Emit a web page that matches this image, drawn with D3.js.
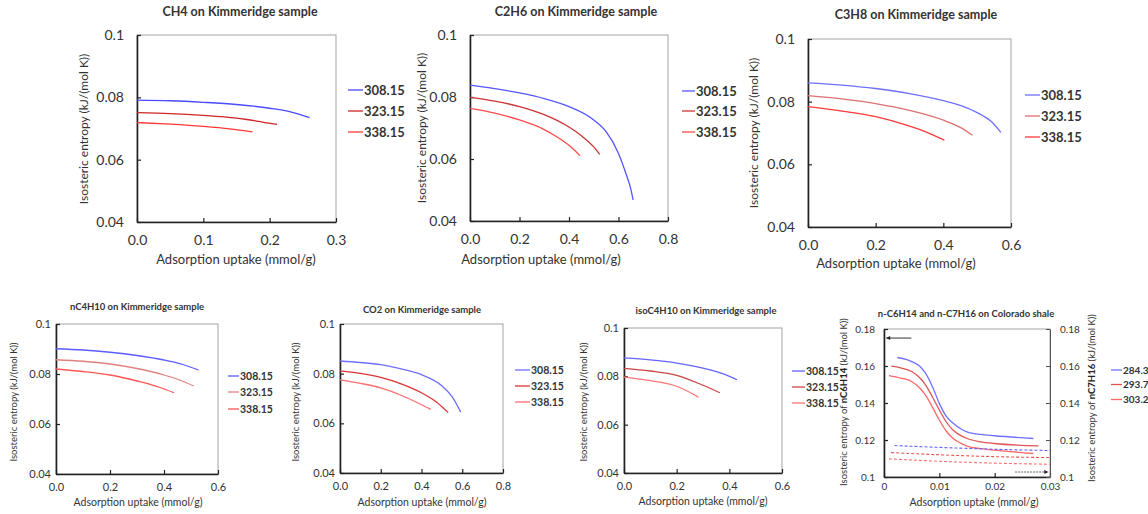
<!DOCTYPE html>
<html>
<head>
<meta charset="utf-8">
<script src="https://cdn.jsdelivr.net/npm/d3@7/dist/d3.min.js"></script>
<style>
  html, body { margin: 0; padding: 0; background: #fff; }
  svg { display: block; }
  text { font-family: Lato, "Open Sans", "Liberation Sans", sans-serif; fill: #333; }
</style>
</head>
<body>
<svg id="chart" width="1148" height="514"></svg>
<script>
// ---- Isosteric entropy curves: [uptake mmol/g, entropy kJ/(mol K)] ----
const ch4_308 = [[0,0.0791],[0.05,0.0789],[0.1,0.0784],[0.15,0.0777],[0.2,0.0765],[0.23,0.0754],[0.26,0.0735]];
const ch4_323 = [[0,0.0751],[0.05,0.0748],[0.1,0.0742],[0.15,0.0733],[0.18,0.0724],[0.211,0.0713]];
const ch4_338 = [[0,0.0719],[0.05,0.0714],[0.1,0.0707],[0.14,0.0699],[0.174,0.0689]];

const c2h6_308 = [[0,0.0838],[0.1,0.0827],[0.2,0.0813],[0.3,0.0795],[0.4,0.0769],[0.5,0.0726],[0.55,0.0688],[0.6,0.0618],[0.63,0.0553],[0.65,0.0502],[0.659,0.0468]];
const c2h6_323 = [[0,0.0799],[0.1,0.0787],[0.2,0.0769],[0.3,0.0743],[0.4,0.0703],[0.45,0.0675],[0.5,0.0639],[0.524,0.0615]];
const c2h6_338 = [[0,0.0763],[0.1,0.0748],[0.2,0.0726],[0.3,0.0695],[0.35,0.0672],[0.4,0.0644],[0.444,0.0611]];

const c3h8_308 = [[0,0.0860],[0.1,0.0853],[0.2,0.0842],[0.3,0.0826],[0.4,0.0803],[0.45,0.0788],[0.5,0.0765],[0.54,0.0738],[0.57,0.0702]];
const c3h8_323 = [[0,0.0819],[0.1,0.0809],[0.2,0.0794],[0.3,0.0772],[0.4,0.0741],[0.45,0.0718],[0.486,0.0693]];
const c3h8_338 = [[0,0.0784],[0.1,0.0770],[0.2,0.0752],[0.3,0.0722],[0.35,0.0703],[0.403,0.0677]];

const nc4_308 = [[0,0.0901],[0.1,0.0896],[0.2,0.0887],[0.3,0.0874],[0.4,0.0856],[0.47,0.0838],[0.528,0.0816]];
const nc4_323 = [[0,0.0857],[0.1,0.0851],[0.2,0.0840],[0.3,0.0822],[0.4,0.0796],[0.46,0.0775],[0.51,0.0752]];
const nc4_338 = [[0,0.0820],[0.1,0.0810],[0.2,0.0796],[0.3,0.0772],[0.38,0.0748],[0.437,0.0725]];

const co2_308 = [[0,0.0851],[0.1,0.0845],[0.2,0.0836],[0.3,0.0819],[0.4,0.0796],[0.5,0.0751],[0.55,0.0708],[0.593,0.0645]];
const co2_323 = [[0,0.0811],[0.1,0.0801],[0.2,0.0785],[0.3,0.0759],[0.4,0.0723],[0.47,0.0688],[0.531,0.0643]];
const co2_338 = [[0,0.0775],[0.1,0.0761],[0.2,0.0743],[0.3,0.0713],[0.38,0.0683],[0.446,0.0656]];

const iso_308 = [[0,0.0876],[0.1,0.0868],[0.2,0.0855],[0.3,0.0834],[0.38,0.0809],[0.429,0.0786]];
const iso_323 = [[0,0.0833],[0.1,0.0822],[0.2,0.0804],[0.3,0.0763],[0.364,0.0732]];
const iso_338 = [[0,0.0797],[0.1,0.0782],[0.2,0.0759],[0.283,0.0714]];

// n-hexane (left axis, solid) and n-heptane (right axis, dashed) on Colorado shale
const hex_284 = [[0.0024,0.1646],[0.004,0.1636],[0.005,0.1624],[0.0065,0.1597],[0.0075,0.1561],[0.0088,0.1485],[0.01,0.1398],[0.0112,0.1330],[0.0125,0.1290],[0.014,0.1258],[0.015,0.1244],[0.0175,0.1230],[0.02,0.1223],[0.027,0.1208]];
const hex_294 = [[0.0013,0.1599],[0.003,0.1590],[0.005,0.1570],[0.0065,0.1535],[0.0075,0.1498],[0.0088,0.1430],[0.01,0.1362],[0.0112,0.1300],[0.0125,0.1253],[0.014,0.1222],[0.015,0.1208],[0.0175,0.1190],[0.02,0.1181],[0.0279,0.1168]];
const hex_303 = [[0.0009,0.1548],[0.003,0.1535],[0.005,0.1516],[0.0065,0.1480],[0.0075,0.1443],[0.0088,0.1375],[0.01,0.1308],[0.0112,0.1250],[0.0125,0.1208],[0.014,0.1180],[0.015,0.1167],[0.0175,0.1153],[0.02,0.1145],[0.027,0.1127]];
const hep_284 = [[0.0019,0.1170],[0.01,0.1160],[0.02,0.1150],[0.03,0.1143]];
const hep_294 = [[0.0013,0.1132],[0.01,0.1120],[0.02,0.1110],[0.03,0.1105]];
const hep_303 = [[0.0009,0.1098],[0.01,0.1085],[0.02,0.1075],[0.03,0.1069]];

// ---- Labels and ticks ----
const kimTemps = ["308.15", "323.15", "338.15"];
const colTemps = ["284.3", "293.7", "303.2"];
const yTicksKim = [0.04, 0.06, 0.08, 0.1];
const yTicksCol = [0.1, 0.12, 0.14, 0.16, 0.18];
const xTicks03 = [0, 0.1, 0.2, 0.3];
const xTicks06 = [0, 0.2, 0.4, 0.6];
const xTicks08 = [0, 0.2, 0.4, 0.6, 0.8];
const xTicks003 = [0, 0.01, 0.02, 0.03];

const svg = d3.select("#chart");
svg.append("rect").attr("width", 1148).attr("height", 514).attr("fill", "#fff");

const fmtY = d => (d === 0.1 ? "0.1" : d3.format(".2f")(d));
const fmtX1 = d3.format(".1f");
const fmtX3 = d => (d === 0 ? "0" : d3.format(".2f")(d));

function drawPanel(p) {
  const g = svg.append("g");
  const x = d3.scaleLinear().domain(p.xDomain).range([p.l, p.r]);
  const y = d3.scaleLinear().domain(p.yDomain).range([p.b, p.t]);

  // plot frame (top / right in light grey)
  g.append("rect").attr("x", p.l).attr("y", p.t)
    .attr("width", p.r - p.l).attr("height", p.b - p.t)
    .attr("fill", "none").attr("stroke", "#9a9a9a").attr("stroke-width", 0.9);

  const styleAxis = (sel, fs) => {
    sel.select(".domain").attr("stroke", "#222").attr("stroke-width", 1.6);
    sel.selectAll(".tick line").attr("stroke", "#222").attr("stroke-width", 1.2);
    sel.selectAll(".tick text").attr("font-size", fs).attr("fill", "#333")
      .attr("font-family", "Lato, 'Open Sans', sans-serif");
  };

  const xa = g.append("g").attr("transform", `translate(0,${p.b})`)
    .call(d3.axisBottom(x).tickValues(p.xTicks).tickFormat(p.xFmt)
      .tickSize(-4).tickSizeOuter(0).tickPadding(p.xPad));
  styleAxis(xa, p.tickFs);

  const ya = g.append("g").attr("transform", `translate(${p.l},0)`)
    .call(d3.axisLeft(y).tickValues(p.yTicks).tickFormat(fmtY)
      .tickSize(-4).tickSizeOuter(0).tickPadding(p.yPad));
  styleAxis(ya, p.tickFs);

  if (p.rightAxis) {
    const ra = g.append("g").attr("transform", `translate(${p.r},0)`)
      .call(d3.axisRight(y).tickValues(p.yTicks).tickFormat(fmtY)
        .tickSize(-4).tickSizeOuter(0).tickPadding(p.yPadR));
    ra.select(".domain").attr("stroke", "#555").attr("stroke-width", 1);
    ra.selectAll(".tick line").attr("stroke", "#555");
    ra.selectAll(".tick text").attr("font-size", p.tickFs).attr("fill", "#333");
  }

  const line = d3.line().x(d => x(d[0])).y(d => y(d[1])).curve(d3.curveMonotoneX);
  p.series.forEach(s => {
    g.append("path").datum(s.data).attr("d", line)
      .attr("fill", "none").attr("stroke", s.color)
      .attr("stroke-width", s.width || 1.3)
      .attr("stroke-dasharray", s.dash || null);
  });

  // arrows indicating which axis each curve set belongs to
  (p.arrows || []).forEach(a => {
    const x1 = x(a.from[0]), x2 = x(a.to[0]), yy = y(a.from[1]);
    g.append("line").attr("x1", x1).attr("x2", x2).attr("y1", yy).attr("y2", yy)
      .attr("stroke", a.color).attr("stroke-width", 1)
      .attr("stroke-dasharray", a.dash || null);
    const dir = Math.sign(x2 - x1);
    g.append("path")
      .attr("d", `M${x2},${yy} L${x2 - dir * 4},${yy - 2} L${x2 - dir * 4},${yy + 2} Z`)
      .attr("fill", "#222");
  });

  // title
  g.append("text").attr("x", p.titleX).attr("y", p.titleY)
    .attr("text-anchor", "middle").attr("font-weight", "bold")
    .attr("font-size", p.titleFs).attr("fill", "#222").text(p.title);

  // x axis title
  g.append("text").attr("x", p.xtX).attr("y", p.xtY)
    .attr("text-anchor", "middle").attr("font-size", p.axisFs).attr("fill", "#333")
    .text("Adsorption uptake (mmol/g)");

  // y axis title(s)
  const yt = g.append("text")
    .attr("transform", `translate(${p.ytX},${p.ytY}) rotate(-90)`)
    .attr("text-anchor", "middle").attr("font-size", p.yAxisFs).attr("fill", "#555");
  if (p.ytBold) {
    yt.append("tspan").text("Isosteric entropy of ");
    yt.append("tspan").attr("font-weight", "bold").attr("fill", "#222").text(p.ytBold);
    yt.append("tspan").text(" (kJ/(mol K))");
  } else {
    yt.text("Isosteric entropy (kJ/(mol K))");
  }
  if (p.ytRBold) {
    const yr = g.append("text")
      .attr("transform", `translate(${p.ytRX},${p.ytRY}) rotate(-90)`)
      .attr("text-anchor", "middle").attr("font-size", p.yAxisFs).attr("fill", "#555");
    yr.append("tspan").text("Isosteric entropy of ");
    yr.append("tspan").attr("font-weight", "bold").attr("fill", "#222").text(p.ytRBold);
    yr.append("tspan").text(" (kJ/(mol K))");
  }

  // legend
  p.legend.labels.forEach((lab, i) => {
    const ly = p.legend.ys[i];
    g.append("line").attr("x1", p.legend.x1).attr("x2", p.legend.x2)
      .attr("y1", ly).attr("y2", ly)
      .attr("stroke", p.series[i].color).attr("stroke-width", 1.3);
    g.append("text").attr("x", p.legend.x2 + 1).attr("y", ly)
      .attr("dy", "0.35em").attr("font-weight", "bold")
      .attr("font-size", p.legend.fs).attr("fill", "#222").text(lab);
  });
}

const topRow = { tickFs: 14, axisFs: 13, yAxisFs: 12, titleFs: 12.5, xPad: 13, yPad: 13 };
const botRow = { tickFs: 11, axisFs: 10.5, yAxisFs: 9.5, titleFs: 9.5, xPad: 9, yPad: 5 };

drawPanel(Object.assign({}, topRow, {
  l: 137, r: 336, t: 35, b: 222,
  xDomain: [0, 0.3], yDomain: [0.04, 0.1], xTicks: xTicks03, yTicks: yTicksKim, xFmt: fmtX1,
  title: "CH4 on Kimmeridge sample", titleX: 240, titleY: 16,
  xtX: 236, xtY: 264, ytX: 88, ytY: 129,
  series: [
    { data: ch4_308, color: "#4b4bff" },
    { data: ch4_323, color: "#cc2626" },
    { data: ch4_338, color: "#ff3838" }],
  legend: { labels: kimTemps, x1: 348, x2: 363, ys: [90, 111, 132], fs: 13 }
}));

drawPanel(Object.assign({}, topRow, {
  l: 470, r: 668, t: 35, b: 221,
  xDomain: [0, 0.8], yDomain: [0.04, 0.1], xTicks: xTicks08, yTicks: yTicksKim, xFmt: fmtX1,
  title: "C2H6 on Kimmeridge sample", titleX: 576, titleY: 16,
  xtX: 541, xtY: 264, ytX: 426, ytY: 128,
  series: [
    { data: c2h6_308, color: "#5555ff" },
    { data: c2h6_323, color: "#cc3333" },
    { data: c2h6_338, color: "#ff4a4a" }],
  legend: { labels: kimTemps, x1: 682, x2: 695, ys: [91, 111, 132], fs: 13 }
}));

drawPanel(Object.assign({}, topRow, {
  l: 808, r: 1011, t: 39, b: 227,
  xDomain: [0, 0.6], yDomain: [0.04, 0.1], xTicks: xTicks06, yTicks: yTicksKim, xFmt: fmtX1,
  title: "C3H8 on Kimmeridge sample", titleX: 916, titleY: 19,
  xtX: 896, xtY: 268, ytX: 758, ytY: 133,
  series: [
    { data: c3h8_308, color: "#6f6fff" },
    { data: c3h8_323, color: "#dd7070" },
    { data: c3h8_338, color: "#ff3a3a" }],
  legend: { labels: kimTemps, x1: 1025, x2: 1040, ys: [95, 116, 137], fs: 13 }
}));

drawPanel(Object.assign({}, botRow, {
  l: 56, r: 218, t: 324, b: 474,
  xDomain: [0, 0.6], yDomain: [0.04, 0.1], xTicks: xTicks06, yTicks: yTicksKim, xFmt: fmtX1,
  title: "nC4H10 on Kimmeridge sample", titleX: 137, titleY: 310,
  xtX: 138, xtY: 506, ytX: 17, ytY: 402,
  series: [
    { data: nc4_308, color: "#5c5cff" },
    { data: nc4_323, color: "#e08080" },
    { data: nc4_338, color: "#ff5555" }],
  legend: { labels: kimTemps, x1: 228, x2: 239, ys: [376, 392, 409], fs: 10.5 }
}));

drawPanel(Object.assign({}, botRow, {
  l: 340, r: 503, t: 324, b: 473,
  xDomain: [0, 0.8], yDomain: [0.04, 0.1], xTicks: xTicks08, yTicks: yTicksKim, xFmt: fmtX1,
  title: "CO2 on Kimmeridge sample", titleX: 422, titleY: 313,
  xtX: 422, xtY: 506, ytX: 299, ytY: 402,
  series: [
    { data: co2_308, color: "#6e6eff" },
    { data: co2_323, color: "#dd3333" },
    { data: co2_338, color: "#ff6e6e" }],
  legend: { labels: kimTemps, x1: 515, x2: 530, ys: [370, 386, 402], fs: 10.5 }
}));

drawPanel(Object.assign({}, botRow, {
  l: 624, r: 782, t: 328, b: 473,
  xDomain: [0, 0.6], yDomain: [0.04, 0.1], xTicks: xTicks06, yTicks: yTicksKim, xFmt: fmtX1,
  title: "isoC4H10 on Kimmeridge sample", titleX: 706, titleY: 314,
  xtX: 703, xtY: 505, ytX: 587, ytY: 402,
  series: [
    { data: iso_308, color: "#6464ff" },
    { data: iso_323, color: "#cc4444" },
    { data: iso_338, color: "#ff7575" }],
  legend: { labels: kimTemps, x1: 792, x2: 805, ys: [371, 387, 403], fs: 10.5 }
}));

drawPanel(Object.assign({}, botRow, {
  l: 884, r: 1050, t: 329, b: 477,
  xDomain: [0, 0.03], yDomain: [0.1, 0.18], xTicks: xTicks003, yTicks: yTicksCol, xFmt: fmtX3,
  tickFs: 10, xPad: 6, yPad: 9, rightAxis: true, yPadR: 10,
  title: "n-C6H14 and n-C7H16 on Colorado shale", titleX: 966, titleY: 317,
  xtX: 974, xtY: 506, ytX: 847, ytY: 402, ytBold: "nC6H14",
  ytRX: 1095, ytRY: 398, ytRBold: "nC7H16",
  series: [
    { data: hex_284, color: "#7070ff" },
    { data: hex_294, color: "#dd5555" },
    { data: hex_303, color: "#ff6666" },
    { data: hep_284, color: "#6060ff", dash: "3,2", width: 1.1 },
    { data: hep_294, color: "#ee5050", dash: "3,2", width: 1.1 },
    { data: hep_303, color: "#ff7070", dash: "3,2", width: 1.1 }],
  arrows: [
    { from: [0.00495, 0.1751], to: [0.0004, 0.1751], color: "#333" },
    { from: [0.0237, 0.1027], to: [0.0297, 0.1027], color: "#666", dash: "2,1" }],
  legend: { labels: colTemps, x1: 1111, x2: 1122, ys: [370, 384.5, 399.5], fs: 10 }
}));
</script>
</body>
</html>
